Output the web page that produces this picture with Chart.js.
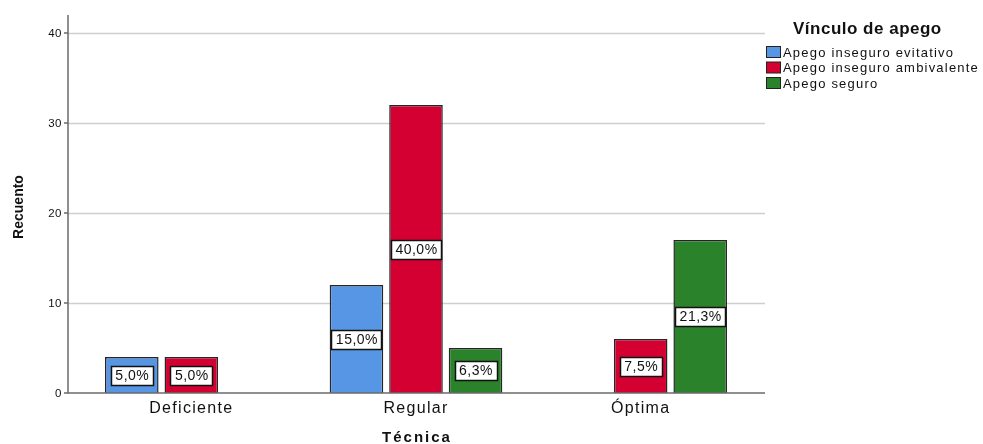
<!DOCTYPE html>
<html>
<head>
<meta charset="utf-8">
<script src="https://cdn.jsdelivr.net/npm/chart.js@4/dist/chart.umd.min.js"></script>
<style>
  html, body { margin: 0; padding: 0; background: #ffffff; }
  #wrap { width: 983px; height: 444px; }
</style>
</head>
<body>
<div id="wrap"><canvas id="chart" width="983" height="444"></canvas></div>
<script>
// Data
const categories = ['Deficiente', 'Regular', 'Óptima'];
const seriesNames = ['Apego inseguro evitativo', 'Apego inseguro ambivalente', 'Apego seguro'];
const evitativo = [4, 12, null];
const ambivalente = [4, 32, 6];
const seguro = [null, 5, 17];
const evitativoPct = ['5,0%', '15,0%', null];
const ambivalentePct = ['5,0%', '40,0%', '7,5%'];
const seguroPct = [null, '6,3%', '21,3%'];
const yTicks = [0, 10, 20, 30, 40];

const colors = ['#5796e5', '#d50032', '#2a822a'];
const FONT = '"Liberation Sans", Arial, sans-serif';

// Axes, gridlines, labels and legend in SPSS style
const spssPlugin = {
    id: 'spss',
    beforeDatasetsDraw(chart) {
        const ctx = chart.ctx;
        const y = chart.scales.y;
        const left = 68, right = 765;
        ctx.save();
        // gridlines
        ctx.strokeStyle = '#cfcfcf';
        ctx.lineWidth = 1.5;
        yTicks.forEach(v => {
            if (v === 0) return;
            const py = Math.round(y.getPixelForValue(v)) + 0.5;
            ctx.beginPath();
            ctx.moveTo(left, py);
            ctx.lineTo(right, py);
            ctx.stroke();
        });
        ctx.restore();
    },
    afterDatasetsDraw(chart) {
        const ctx = chart.ctx;
        const x = chart.scales.x;
        const y = chart.scales.y;
        const left = 68, right = 765;
        const top = chart.chartArea.top, bottom = y.getPixelForValue(0);
        ctx.save();

        // axis lines
        ctx.strokeStyle = '#6b6b6b';
        ctx.lineWidth = 1.5;
        ctx.beginPath();
        ctx.moveTo(left, top);
        ctx.lineTo(left, bottom);
        ctx.lineTo(right, bottom);
        ctx.stroke();

        // y ticks
        ctx.fillStyle = '#111';
        ctx.font = '11.5px ' + FONT;
        ctx.letterSpacing = '0.5px';
        ctx.textAlign = 'right';
        ctx.textBaseline = 'middle';
        yTicks.forEach(v => {
            const py = y.getPixelForValue(v);
            ctx.beginPath();
            ctx.moveTo(left - 4, py);
            ctx.lineTo(left, py);
            ctx.stroke();
            ctx.fillText(String(v), left - 6, py + 1);
        });

        // category labels
        ctx.font = '16px ' + FONT;
        ctx.letterSpacing = '1.3px';
        ctx.textAlign = 'center';
        categories.forEach((c, i) => {
            ctx.fillText(c, x.getPixelForValue(i), 409);
        });

        // axis titles
        ctx.font = 'bold 15px ' + FONT;
        ctx.letterSpacing = '2px';
        ctx.fillText('Técnica', 417, 438);
        ctx.save();
        ctx.translate(19, 207);
        ctx.rotate(-Math.PI / 2);
        ctx.font = 'bold 14px ' + FONT;
        ctx.letterSpacing = '0px';
        ctx.fillText('Recuento', 0, 0);
        ctx.restore();

        // value labels
        ctx.font = '14px ' + FONT;
        ctx.letterSpacing = '0.5px';
        chart.data.datasets.forEach((ds, di) => {
            const meta = chart.getDatasetMeta(di);
            meta.data.forEach((el, i) => {
                const txt = ds.pctLabels[i];
                if (!txt) return;
                const cx = el.x;
                const cy = (el.y + el.base) / 2;
                const w = Math.round(ctx.measureText(txt).width) + 8;
                const h = 19;
                const bx = Math.round(cx - w / 2) + 0.5;
                const by = Math.round(cy - h / 2) + 0.5;
                ctx.fillStyle = '#ffffff';
                ctx.fillRect(bx, by, w, h);
                ctx.strokeStyle = '#111';
                ctx.lineWidth = 1.5;
                ctx.strokeRect(bx, by, w, h);
                ctx.fillStyle = '#111';
                ctx.textAlign = 'center';
                ctx.fillText(txt, cx + 0.5, cy + 1);
            });
        });

        // legend
        ctx.fillStyle = '#111';
        ctx.font = 'bold 17px ' + FONT;
        ctx.letterSpacing = '0.5px';
        ctx.textAlign = 'left';
        ctx.fillText('Vínculo de apego', 793, 29);
        ctx.font = '13px ' + FONT;
        ctx.letterSpacing = '1.2px';
        chart.data.datasets.forEach((ds, di) => {
            const ry = 52 + di * 15.5;
            ctx.fillStyle = ds.backgroundColor;
            ctx.fillRect(766.5, ry - 5.5, 14, 11);
            ctx.strokeStyle = '#222';
            ctx.lineWidth = 1;
            ctx.strokeRect(766.5, ry - 5.5, 14, 11);
            ctx.fillStyle = '#111';
            ctx.fillText(ds.label, 783, ry + 1);
        });
        ctx.restore();
    }
};

const ctx = document.getElementById('chart').getContext('2d');
new Chart(ctx, {
    type: 'bar',
    data: {
        labels: categories,
        datasets: [
            { label: seriesNames[0], data: evitativo, pctLabels: evitativoPct, backgroundColor: colors[0] },
            { label: seriesNames[1], data: ambivalente, pctLabels: ambivalentePct, backgroundColor: colors[1] },
            { label: seriesNames[2], data: seguro, pctLabels: seguroPct, backgroundColor: colors[2] }
        ].map(d => Object.assign(d, {
            borderColor: '#262626',
            borderWidth: 1.5,
            categoryPercentage: 0.795,
            barPercentage: 0.9
        }))
    },
    options: {
        responsive: false,
        animation: false,
        layout: { padding: { left: 79, right: 230, top: 15, bottom: 51 } },
        plugins: {
            legend: { display: false },
            tooltip: { enabled: false }
        },
        scales: {
            x: { display: false, offset: true },
            y: {
                display: false,
                min: 0,
                max: 42,
                afterBuildTicks: scale => { scale.ticks = yTicks.map(v => ({ value: v })); }
            }
        }
    },
    plugins: [spssPlugin]
});
</script>
</body>
</html>
